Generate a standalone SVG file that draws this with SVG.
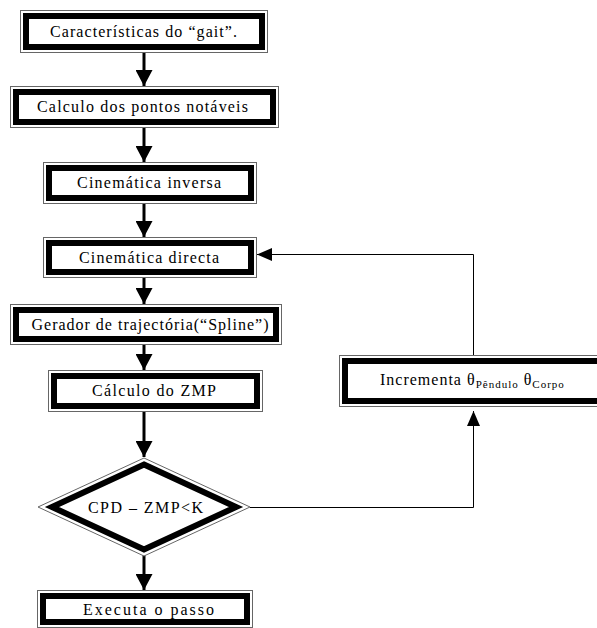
<svg xmlns="http://www.w3.org/2000/svg" width="597" height="628" viewBox="0 0 597 628">
<style>
.o{fill:#fff;stroke:#666;stroke-width:1}
.i{fill:#fff;stroke:#000;stroke-width:6}
.t{font-family:"Liberation Serif","Times New Roman",serif;font-size:16px;fill:#000;text-anchor:middle}
.s{font-size:11px}
.c{stroke:#000;fill:none}
.thick{stroke-width:3}
.thin{stroke-width:1}
</style>
<defs>
<marker id="ah" viewBox="0 0 16 17" refX="16" refY="8.5" markerWidth="16" markerHeight="17" markerUnits="userSpaceOnUse" orient="auto">
<path d="M0,0 L16,8.5 L0,17 Z" fill="#000"/>
</marker>
<marker id="as" viewBox="0 0 15 13" refX="15" refY="6.5" markerWidth="15" markerHeight="13" markerUnits="userSpaceOnUse" orient="auto">
<path d="M0,0 L15,6.5 L0,13 Z" fill="#000"/>
</marker>
</defs>
<rect width="597" height="628" fill="#fff"/>
<g id="connectors">
<line class="c thick" x1="144" y1="53" x2="144" y2="86" marker-end="url(#ah)"/>
<line class="c thick" x1="144" y1="128" x2="144" y2="162" marker-end="url(#ah)"/>
<line class="c thick" x1="144" y1="204" x2="144" y2="237" marker-end="url(#ah)"/>
<line class="c thick" x1="144" y1="278" x2="144" y2="304" marker-end="url(#ah)"/>
<line class="c thick" x1="144" y1="345" x2="144" y2="370" marker-end="url(#ah)"/>
<line class="c thick" x1="144" y1="412" x2="144" y2="457" marker-end="url(#ah)"/>
<line class="c thick" x1="144" y1="555" x2="144" y2="590" marker-end="url(#ah)"/>
<polyline class="c thin" points="250,507.5 473.5,507.5 473.5,411" marker-end="url(#as)"/>
<polyline class="c thin" points="473.5,355 473.5,254.5 257,254.5" marker-end="url(#as)"/>
</g>
<g id="n1">
<rect class="o" x="20.5" y="10.5" width="247" height="42"/>
<rect class="i" x="26" y="16" width="236" height="31"/>
<text class="t" x="143.5" y="37" textLength="187" lengthAdjust="spacing">Características do “gait”.</text>
</g>
<g id="n2">
<rect class="o" x="10.5" y="86.5" width="268" height="41"/>
<rect class="i" x="16" y="92" width="257" height="30"/>
<text class="t" x="142.5" y="112" textLength="211" lengthAdjust="spacing">Calculo dos pontos notáveis</text>
</g>
<g id="n3">
<rect class="o" x="43.5" y="162.5" width="213" height="41"/>
<rect class="i" x="49" y="168" width="202" height="30"/>
<text class="t" x="149" y="188" textLength="144" lengthAdjust="spacing">Cinemática inversa</text>
</g>
<g id="n4">
<rect class="o" x="43.5" y="237.5" width="213" height="40"/>
<rect class="i" x="49" y="243" width="202" height="29"/>
<text class="t" x="149" y="263" textLength="140" lengthAdjust="spacing">Cinemática directa</text>
</g>
<g id="n5">
<rect class="o" x="10.5" y="304.5" width="271" height="40"/>
<rect class="i" x="16" y="310" width="260" height="29"/>
<text class="t" x="150" y="330" textLength="237" lengthAdjust="spacing">Gerador de trajectória(“Spline”)</text>
</g>
<g id="n6">
<rect class="o" x="48.5" y="370.5" width="214" height="41"/>
<rect class="i" x="54" y="376" width="203" height="30"/>
<text class="t" x="154" y="396" textLength="124" lengthAdjust="spacing">Cálculo do ZMP</text>
</g>
<g id="n7">
<polygon class="o" points="144,458 250,507 144,556 38,507"/>
<polygon points="144,464.5 236,507 144,549.5 52,507" fill="#fff" stroke="#000" stroke-width="6" stroke-linejoin="miter"/>
<text class="t" x="145.5" y="513" textLength="115" lengthAdjust="spacing">CPD – ZMP&lt;K</text>
</g>
<g id="n8">
<rect class="o" x="37.5" y="590.5" width="215" height="37"/>
<rect class="i" x="43" y="596" width="204" height="26"/>
<text class="t" x="148.5" y="615" textLength="131" lengthAdjust="spacing">Executa o passo</text>
</g>
<g id="n9">
<rect class="o" x="339.5" y="355.5" width="270" height="51"/>
<rect class="i" x="345" y="361" width="270" height="40"/>
<text class="t" x="380" y="385" style="text-anchor:start;letter-spacing:1px">Incrementa θ<tspan class="s" dy="3">Pêndulo</tspan><tspan dy="-3"> θ</tspan><tspan class="s" dy="3">Corpo</tspan></text>
</g>
</svg>
